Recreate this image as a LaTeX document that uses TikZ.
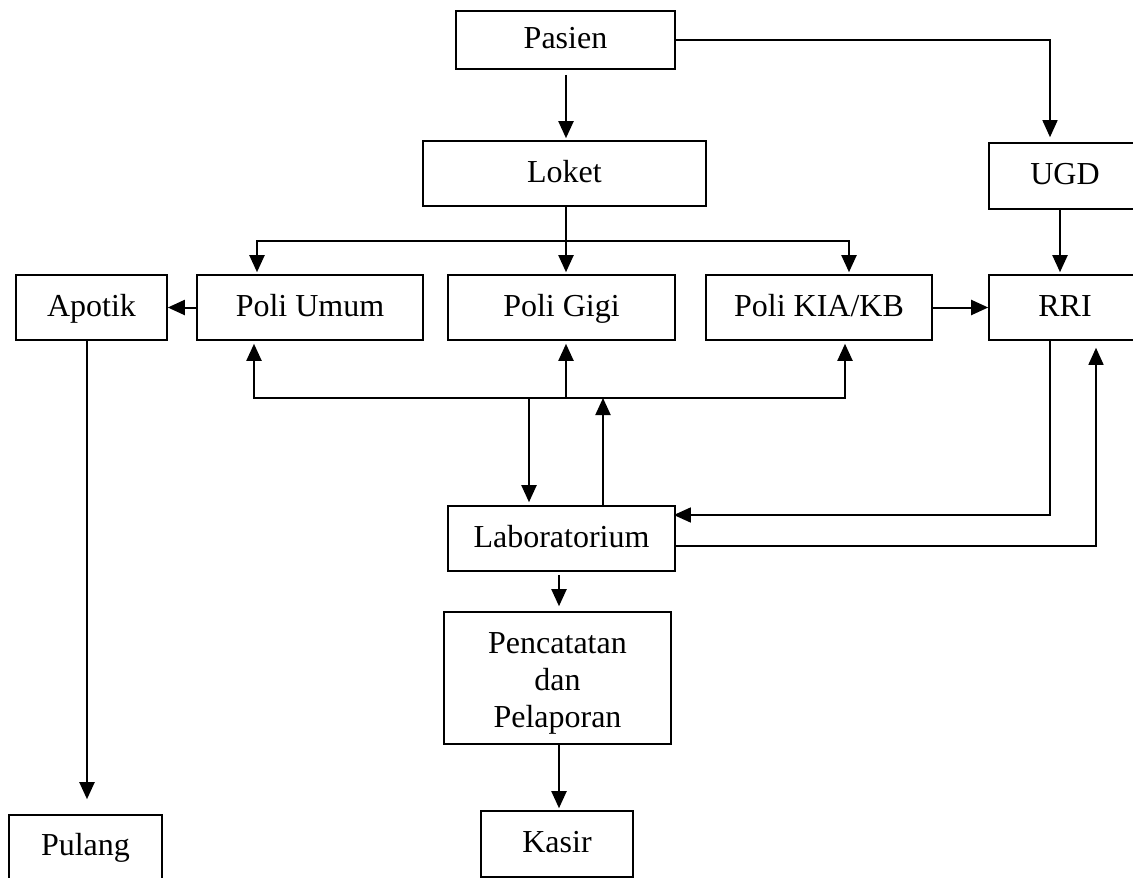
\documentclass[tikz,border=0pt]{standalone}
\usepackage{fontspec}
\setmainfont{Liberation Serif}
\usetikzlibrary{arrows.meta}

\tikzset{
  box/.style={draw, line width=1.6pt, inner sep=0pt, align=center,
              font=\fontsize{32}{37}\selectfont},
  oneline/.style={text height=22pt, text depth=5pt},
  arr/.style={line width=2pt, -{Triangle[length=17pt,width=15pt]}},
  thinarr/.style={line width=1.5pt, -{Triangle[length=17pt,width=15pt]}}
}

\begin{document}
\begin{tikzpicture}[x=1pt,y=-1pt]
\useasboundingbox (0,0) rectangle (1133,878);

% boxes
\node[box, oneline, minimum width=219pt, minimum height=58pt] (pasien) at (565.5,40)   {Pasien};
\node[box, oneline, minimum width=283pt, minimum height=65pt] (loket)  at (564.5,173.5) {Loket};
\node[box, oneline, minimum width=152pt, minimum height=66pt] (ugd)    at (1065,176)    {UGD};
\node[box, oneline, minimum width=151pt, minimum height=65pt] (apotik) at (91.5,307.5)  {Apotik};
\node[box, oneline, minimum width=226pt, minimum height=65pt] (umum)   at (310,307.5)   {Poli Umum};
\node[box, oneline, minimum width=227pt, minimum height=65pt] (gigi)   at (561.5,307.5) {Poli Gigi};
\node[box, oneline, minimum width=226pt, minimum height=65pt] (kia)    at (819,307.5)   {Poli KIA/KB};
\node[box, oneline, minimum width=152pt, minimum height=65pt] (rri)    at (1065,307.5)  {RRI};
\node[box, oneline, minimum width=227pt, minimum height=65pt] (lab)    at (561.5,538.5) {Laboratorium};
\node[box, minimum width=227pt, minimum height=132pt] (catat) at (557.5,678)
  {\raisebox{-5pt}[\height][\depth]{\parbox{200pt}{\centering Pencatatan\\dan\\Pelaporan}}};
\node[box, oneline, minimum width=152pt, minimum height=66pt] (kasir)  at (557,844)     {Kasir};
\node[box, oneline, minimum width=153pt, minimum height=64pt] (pulang) at (85.5,847)    {Pulang};

% columns and rows used by the connectors
\coordinate (xm)   at (566,0);
\coordinate (xu)   at (1050,0);
\coordinate (xur)  at (1060,0);
\coordinate (xr)   at (1096,0);
\coordinate (xpu)  at (257,0);
\coordinate (xpk)  at (849,0);
\coordinate (xbu)  at (254,0);
\coordinate (xbk)  at (845,0);
\coordinate (xld)  at (529,0);
\coordinate (xlu)  at (603,0);
\coordinate (xc)   at (559,0);
\coordinate (xa)   at (87,0);
\coordinate (tb)   at (0,241);
\coordinate (bb)   at (0,398);
\coordinate (yin)  at (0,515);
\coordinate (yout) at (0,546);

% top of the flow
\draw[arr, shorten <=5pt, shorten >=2pt] (pasien.south -| xm) -- (loket.north -| xm);
\draw[thinarr, shorten >=5pt] (pasien.east) -| (ugd.north -| xu);
\draw[arr, shorten >=2pt] (ugd.south -| xur) -- (rri.north -| xur);

% from the counter to the clinics
\draw[arr, shorten >=2pt] (loket.south -| xm) -- (gigi.north -| xm);
\draw[arr, shorten >=2pt] (xm |- tb) -| (umum.north -| xpu);
\draw[arr, shorten >=2pt] (xm |- tb) -| (kia.north -| xpk);

% side links of the clinic row
\draw[arr] (umum.west) -- (apotik.east);
\draw[arr] (kia.east) -- (rri.west);

% shared bus between clinics and the laboratory
\draw[arr, shorten >=3pt] (xm |- bb) -- (gigi.south -| xm);
\draw[arr, shorten >=3pt] (xm |- bb) -| (umum.south -| xbu);
\draw[arr, shorten >=3pt] (xm |- bb) -| (kia.south -| xbk);
\draw[arr, shorten >=3pt] (xld |- bb) -- (lab.north -| xld);
\draw[arr] (lab.north -| xlu) -- (xlu |- bb);

% inpatient room and laboratory
\draw[thinarr, shorten >=-2pt] (rri.south -| xu) |- (lab.east |- yin);
\draw[thinarr, shorten >=7pt] (lab.east |- yout) -| (rri.south -| xr);

% down to records, cashier and home
\draw[arr, shorten <=3pt, shorten >=5pt] (lab.south -| xc) -- (catat.north -| xc);
\draw[arr, shorten >=2pt] (catat.south -| xc) -- (kasir.north -| xc);
\draw[arr, shorten >=15pt] (apotik.south -| xa) -- (pulang.north -| xa);
\end{tikzpicture}
\end{document}
